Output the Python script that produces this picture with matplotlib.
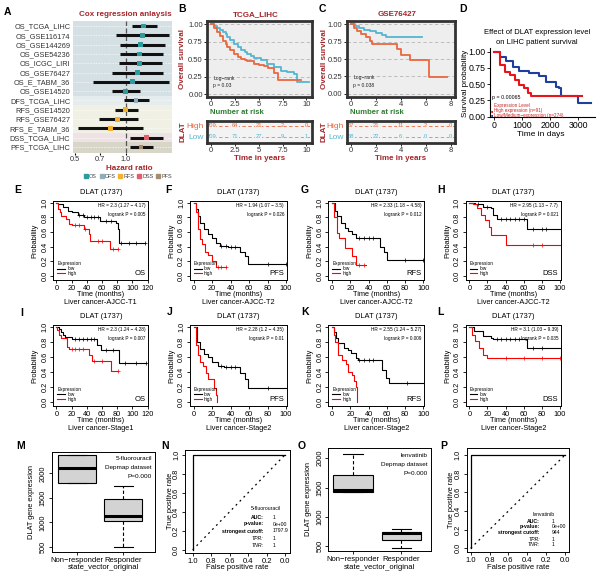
import matplotlib.pyplot as plt
from matplotlib.lines import Line2D
from matplotlib.ticker import NullLocator
import numpy as np

plt.rcParams['font.family'] = ['Liberation Sans', 'DejaVu Sans']

DARKRED = '#a3262a'
ORANGE = '#e9673f'
SKY = '#55b5d1'
GREEN = '#2e7d32'

# ---------- data ----------
cox_names = ["OS_TCGA_LIHC", "OS_GSE116174", "OS_GSE144269", "OS_GSE54236", "OS_ICGC_LIRI",
             "OS_GSE76427", "OS_E_TABM_36", "OS_GSE14520", "DFS_TCGA_LIHC", "RFS_GSE14520",
             "RFS_GSE76427", "RFS_E_TABM_36", "DSS_TCGA_LIHC", "PFS_TCGA_LIHC"]
cox_hr = [1.28, 1.25, 1.22, 1.21, 1.21, 1.17, 1.09, 1.00, 1.15, 1.00, 0.89, 0.81, 1.33, 1.23]
cox_lo = [1.09, 0.875, 0.93, 0.93, 0.91, 0.83, 0.64, 0.83, 0.97, 0.86, 0.69, 0.52, 1.06, 1.06]
cox_hi = [1.53, 1.81, 1.71, 1.67, 1.64, 1.66, 1.81, 1.22, 1.37, 1.18, 1.18, 1.27, 1.67, 1.46]
cox_type = ["OS"] * 8 + ["DFS"] + ["RFS"] * 3 + ["DSS", "PFS"]
type_col = {'OS': '#2e9c9c', 'DFS': '#8fb0bb', 'RFS': '#f2b134', 'DSS': '#e35d6a', 'PFS': '#a68c6e'}
type_bg = {'OS': '#d4e0e3', 'DFS': '#e4ecee', 'RFS': '#f0f0e4', 'DSS': '#efe2e5', 'PFS': '#d8d6c8'}

tcga_hi_t = [0, 0.3, 0.6, 0.9, 1.2, 1.5, 1.7, 2.0, 2.4, 2.8, 3.1, 3.5, 3.8, 4.5, 5.0, 5.5, 6.0, 6.6, 7.0, 9.4]
tcga_hi_s = [1.0, 0.95, 0.89, 0.83, 0.77, 0.72, 0.68, 0.63, 0.58, 0.54, 0.51, 0.49, 0.47, 0.44, 0.42, 0.40, 0.38, 0.30, 0.21, 0.21]
tcga_lo_t = [0, 0.3, 0.6, 0.9, 1.2, 1.5, 1.7, 2.0, 2.4, 2.8, 3.1, 3.5, 3.8, 4.2, 4.5, 5.2, 5.9, 6.6, 7.3, 8.0, 8.7, 9.0, 10.3]
tcga_lo_s = [1.0, 0.98, 0.95, 0.92, 0.89, 0.86, 0.82, 0.78, 0.72, 0.67, 0.64, 0.61, 0.58, 0.55, 0.52, 0.49, 0.44, 0.39, 0.34, 0.32, 0.29, 0.17, 0.17]
tcga_risk_t = [0, 2.5, 5, 7.5, 10]
tcga_risk_hi = [209, 64, 21, 2, 0]
tcga_risk_lo = [209, 71, 27, 9, 1]

gse_lo_t = [0, 0.3, 0.6, 1.0, 1.5, 2.0, 2.5, 2.8, 5.7]
gse_lo_s = [1, 0.97, 0.95, 0.92, 0.90, 0.88, 0.85, 0.82, 0.82]
gse_hi_t = [0, 0.2, 0.5, 0.8, 1.2, 1.5, 1.7, 3.7, 4.0, 4.75, 6.25, 7.7]
gse_hi_s = [1, 0.95, 0.90, 0.86, 0.81, 0.76, 0.71, 0.65, 0.56, 0.48, 0.24, 0.24]
gse_risk_t = [0, 2, 4, 6, 8]
gse_risk_hi = [57, 21, 11, 2, 0]
gse_risk_lo = [58, 22, 6, 0, 0]

gepia_hi_t = [0, 200, 376, 553, 730, 900, 1080, 1200, 1320, 3140]
gepia_hi_s = [1, 0.79, 0.69, 0.64, 0.56, 0.49, 0.44, 0.36, 0.32, 0.32]
gepia_lo_t = [0, 200, 435, 670, 900, 1260, 1610, 1850, 2200, 2320, 2376, 3000, 3450]
gepia_lo_s = [1, 0.92, 0.85, 0.77, 0.71, 0.67, 0.62, 0.54, 0.46, 0.44, 0.32, 0.21, 0.21]

# KM plotter panels E-L: (low times, low surv, low censor, high times, high surv, high censor)
km_E = ([0, 2, 8.5, 15, 21, 28, 36, 57, 79, 81, 83, 116], [1, 0.98, 0.94, 0.89, 0.88, 0.84, 0.81, 0.75, 0.73, 0.64, 0.45, 0.45],
        [30, 35, 40, 45, 50, 55, 65, 72, 85, 95, 105, 116],
        [0, 2, 4.3, 6.4, 12.8, 17, 21, 36, 42.5, 44.7, 70, 81], [1, 0.92, 0.87, 0.82, 0.78, 0.71, 0.69, 0.64, 0.57, 0.48, 0.36, 0.36],
        [25, 30, 38, 55, 60, 75, 81])
km_F = ([0, 3, 5, 7.3, 11.6, 16, 20, 24.6, 29, 37.5, 50, 55, 59, 117], [1, 0.92, 0.82, 0.73, 0.64, 0.57, 0.52, 0.45, 0.41, 0.40, 0.33, 0.27, 0.16, 0.16],
        [30, 35, 40, 45, 80, 100, 117],
        [0, 2, 5, 7.3, 9.5, 12.5, 16, 20, 24.6, 35], [1, 0.87, 0.64, 0.5, 0.43, 0.33, 0.29, 0.2, 0.12, 0.12],
        [26, 30, 35])
km_G = ([0, 3, 5, 9.5, 13.8, 18, 22.4, 26.7, 52.6, 57, 60, 118], [1, 0.89, 0.82, 0.73, 0.66, 0.61, 0.57, 0.52, 0.40, 0.33, 0.22, 0.22],
        [30, 35, 40, 45, 80, 100, 118],
        [0, 2, 5, 7.3, 13.8, 22.4, 26.7, 37.5], [1, 0.81, 0.59, 0.52, 0.38, 0.27, 0.14, 0.14],
        [30, 35])
km_H = ([0, 6.5, 15, 24, 26, 30, 64, 113], [1, 0.98, 0.95, 0.93, 0.84, 0.78, 0.64, 0.64],
        [10, 20, 35, 40, 45, 50, 55, 60, 70, 80, 85, 113],
        [0, 4.3, 8.7, 13, 17.4, 21.7, 24, 40, 119], [1, 0.98, 0.93, 0.84, 0.76, 0.67, 0.56, 0.42, 0.42],
        [70, 80, 119])
km_I = ([0, 3, 6, 9, 12, 21, 54, 58.6, 83, 118], [1, 0.97, 0.94, 0.90, 0.87, 0.84, 0.76, 0.70, 0.52, 0.52],
        [25, 30, 35, 40, 45, 50, 65, 75, 90, 105, 118],
        [0, 1, 3, 6, 8, 14.5, 16.7, 43, 47.5, 72, 81], [1, 0.96, 0.9, 0.86, 0.85, 0.74, 0.71, 0.62, 0.55, 0.41, 0.41],
        [20, 25, 30, 35, 50, 60, 81])
km_J = ([0, 3.4, 7.3, 11.6, 15.9, 20, 26.6, 33, 50, 55, 59, 117], [1, 0.8, 0.71, 0.64, 0.6, 0.53, 0.48, 0.46, 0.39, 0.3, 0.18, 0.18],
        [30, 35, 40, 45, 80, 117],
        [0, 2, 4.7, 6.9, 9.9, 12.9, 16, 22, 24.5, 25], [1, 0.76, 0.62, 0.53, 0.48, 0.39, 0.3, 0.18, 0.09, 0],
        [])
km_K = ([0, 2, 4, 6.4, 12.9, 17, 21, 25.8, 28, 54.5, 59, 62, 118], [1, 0.93, 0.85, 0.79, 0.72, 0.70, 0.65, 0.59, 0.56, 0.43, 0.32, 0.25, 0.25],
        [30, 35, 40, 45, 82, 118],
        [0, 2, 3.5, 6.4, 10.7, 15, 17, 21.5, 23.6, 25.8, 27], [1, 0.9, 0.8, 0.63, 0.56, 0.5, 0.4, 0.36, 0.27, 0.2, 0],
        [])
km_L = ([0, 5, 15, 24, 26, 63, 113], [1, 0.95, 0.88, 0.86, 0.84, 0.72, 0.72],
        [30, 35, 40, 45, 50, 55, 70, 80, 113],
        [0, 3, 6.5, 10.8, 15, 19, 118], [1, 0.9, 0.81, 0.72, 0.63, 0.59, 0.59],
        [40, 60, 80, 100, 118])

box_labels = ['Non\u2212responder', 'Responder']
fu_q1 = [1796, 1031]; fu_med = [2102, 1127]; fu_q3 = [2374, 1468]; fu_lo = [1796, 490]; fu_hi = [2374, 1740]
lv_q1 = [1429, 603]; lv_med = [1458, 728]; lv_q3 = [1715, 745]; lv_lo = [1429, 462]; lv_hi = [2068, 786]

roc_spec = [1, 1, 0]
roc_sens = [0, 1, 1]

# ---------- layout helpers ----------
W, H = 600, 577
fig = plt.figure(figsize=(6, 5.77), dpi=100)


def axp(x0, y0, x1, y1):
    return fig.add_axes([x0 / W, 1 - y1 / H, (x1 - x0) / W, (y1 - y0) / H])


def tx(x, y, s, **kw):
    kw.setdefault('ha', 'center')
    kw.setdefault('va', 'center')
    return fig.text(x / W, 1 - y / H, s, **kw)


def letter(x, y, s):
    tx(x, y, s, fontsize=7.5, weight='bold')


# ---------- A: forest ----------
letter(7, 12, 'A')
axA = axp(73, 21, 172, 153)
n = len(cox_names)
ypos = np.arange(n)[::-1]
for i, (y, t) in enumerate(zip(ypos, cox_type)):
    lo = y - 0.5 - (1 if i == n - 1 else 0)
    hi = y + 0.5 + (1 if i == 0 else 0)
    axA.axhspan(lo, hi, color=type_bg[t], lw=0, zorder=0)
    axA.axhline(y, color='white', lw=0.4, ls=(0, (3, 2)), zorder=0.5)
axA.set_xscale('log')
axA.set_xlim(0.486, 1.88)
axA.set_ylim(-0.64, 13.54)
axA.axvline(1.0, color='#555555', lw=0.9, ls=(0, (4, 2)), zorder=1)
axA.hlines(ypos, cox_lo, cox_hi, color='#111111', lw=2.2, zorder=2)
axA.scatter(cox_hr, ypos, marker='s', s=12, c=[type_col[t] for t in cox_type], zorder=3, lw=0)
axA.set_xticks([0.5, 0.7, 1.0])
axA.set_xticklabels(['0.5', '0.7', '1.0'])
axA.xaxis.set_minor_locator(NullLocator())
axA.set_yticks(ypos)
axA.set_yticklabels(cox_names)
axA.tick_params(axis='y', length=0, labelsize=5.3, labelcolor='#333333', pad=2)
axA.tick_params(axis='x', length=1.5, labelsize=5.3, labelcolor='#333333', pad=0.5)
for sp in axA.spines.values():
    sp.set_visible(False)
tx(125, 15, 'Cox regression anlaysis', color=DARKRED, weight='bold', fontsize=5.8)
tx(129, 168.5, 'Hazard ratio', color=DARKRED, weight='bold', fontsize=5.8)
handles = [Line2D([], [], marker='s', ls='none', color=type_col[k], ms=2.4) for k in type_col]
fig.legend(handles, list(type_col.keys()), loc='center', bbox_to_anchor=(128 / W, 1 - 176 / H), ncol=5,
           frameon=False, fontsize=4.0, handlelength=0.6, handletextpad=0.2, columnspacing=0.6,
           borderpad=0, labelcolor='#444444')


# ---------- B, C: ggsurvplot style ----------
def km_gg(box, rbox, title, hi_t, hi_s, lo_t, lo_s, xlim, xt, xtl, pval, rt, rhi, rlo, ylab_x, let_xy, let):
    x0, y0, x1, y1 = box
    letter(let_xy[0], let_xy[1], let)
    ax = axp(*box)
    ax.set_facecolor('#eeeeee')
    for yv in [0, 0.25, 0.5, 0.75, 1.0]:
        ax.axhline(yv, color='#b5b5b5', lw=0.6, ls=(0, (4, 3)), zorder=0)
    ax.step(lo_t, lo_s, where='post', color=SKY, lw=1.3)
    ax.step(hi_t, hi_s, where='post', color=ORANGE, lw=1.3)
    ax.set_xlim(*xlim)
    ax.set_ylim(-0.04, 1.05)
    ax.set_xticks(xt)
    ax.set_xticklabels(xtl)
    ax.set_yticks([0, 0.25, 0.5, 0.75, 1.0])
    ax.set_yticklabels(['0.00', '0.25', '0.50', '0.75', '1.00'])
    ax.tick_params(labelsize=5.5, labelcolor='#333333', length=2, pad=1, width=0.6)
    for sp in ax.spines.values():
        sp.set_linewidth(2)
        sp.set_color('#333333')
    ax.text(0.06, 0.23, 'Log\u2212rank', transform=ax.transAxes, fontsize=3.6, color='#222222')
    ax.text(0.06, 0.13, 'p = ' + pval, transform=ax.transAxes, fontsize=3.6, color='#222222')
    tx((x0 + x1) / 2 - 4, 15, title, color=DARKRED, weight='bold', fontsize=5.8)
    tx(ylab_x, (y0 + y1) / 2, 'Overall survival', rotation=90, color=DARKRED, weight='bold', fontsize=5.8)
    tx(x0 + 3, 112.7, 'Number at risk', ha='left', color=GREEN, weight='bold', fontsize=5.5)

    r0, r1, r2, r3 = rbox
    ar = axp(*rbox)
    ar.set_facecolor('#f3f3f3')
    ar.set_xlim(*xlim)
    ar.set_ylim(-0.52, 1.48)
    for yv, col, vals in [(1, ORANGE, rhi), (0, SKY, rlo)]:
        ar.axhline(yv, color=col, lw=0.6, ls=(0, (4, 3)), zorder=1)
        for t, v in zip(rt, vals):
            ar.text(t, yv, str(v), color=col, fontsize=4.2, ha='center', va='center', zorder=2,
                    bbox=dict(fc='#f3f3f3', ec='none', pad=0.2))
    ar.set_yticks([1, 0])
    ar.set_yticklabels(['High', 'Low'])
    ar.get_yticklabels()[0].set_color(ORANGE)
    ar.get_yticklabels()[1].set_color(SKY)
    ar.set_xticks(xt)
    ar.set_xticklabels(xtl)
    ar.tick_params(axis='y', length=0, labelsize=6, pad=2)
    ar.tick_params(axis='x', labelsize=5.5, labelcolor='#333333', length=2, pad=1, width=0.6)
    for sp in ar.spines.values():
        sp.set_linewidth(2)
        sp.set_color('#333333')
    tx(ylab_x, (r1 + r3) / 2, 'DLAT', rotation=90, color=DARKRED, weight='bold', fontsize=5.8)
    tx((r0 + r2) / 2, 158.3, 'Time in years', color=DARKRED, weight='bold', fontsize=5.8)


km_gg((207, 21, 312, 97), (207, 120.7, 312, 142.7), 'TCGA_LIHC', tcga_hi_t, tcga_hi_s, tcga_lo_t, tcga_lo_s,
      (-0.45, 10.6), [0, 2.5, 5, 7.5, 10], ['0', '2.5', '5', '7.5', '10'], '0.03',
      tcga_risk_t, tcga_risk_hi, tcga_risk_lo, 183, (182, 8.5), 'B')
km_gg((346.7, 20.7, 455, 96.7), (346.7, 120.7, 455, 142.7), 'GSE76427', gse_hi_t, gse_hi_s, gse_lo_t, gse_lo_s,
      (-0.35, 8.35), [0, 2, 4, 6, 8], ['0', '2', '4', '6', '8'], '0.038',
      gse_risk_t, gse_risk_hi, gse_risk_lo, 324, (322, 8.5), 'C')

# ---------- D: GEPIA style ----------
letter(463, 9.5, 'D')
axD = axp(490, 48, 595, 117)
axD.step(gepia_lo_t, gepia_lo_s, where='post', color='#1f3f9e', lw=1.5)
axD.step(gepia_hi_t, gepia_hi_s, where='post', color='#e8141c', lw=1.5)
axD.set_xlim(-150, 3600)
axD.set_ylim(-0.005, 1.057)
axD.set_xticks([0, 1000, 2000, 3000])
axD.set_yticks([0, 0.25, 0.5, 0.75, 1.0])
axD.set_yticklabels(['0.00', '0.25', '0.50', '0.75', '1.00'])
axD.tick_params(labelsize=6.3, length=2, pad=1, width=0.6)
axD.spines['top'].set_visible(False)
axD.spines['right'].set_visible(False)
for sp in ['left', 'bottom']:
    axD.spines[sp].set_linewidth(0.8)
tx(537, 33, 'Effect of DLAT expression level', fontsize=5.5)
tx(537, 43, 'on LIHC patient survival', fontsize=5.5)
tx(466, 83, 'Survival probability', rotation=90, fontsize=5.8)
tx(541, 135, 'Time in days', fontsize=6)
tx(492, 97.7, 'p = 0.00065', ha='left', fontsize=3.8)
tx(494, 105.7, 'Expression Level', ha='left', fontsize=3.3, color='#cc2222')
tx(494, 111, 'High expression (n=91)', ha='left', fontsize=3.3, color='#cc2222')
tx(494, 115, 'Low/Medium\u2212expression (n=274)', ha='left', fontsize=3.3, color='#cc2222')
tx(491.5, 111, '\u25a0', fontsize=2.6, color='#e8141c')
tx(491.5, 115, '\u25a0', fontsize=2.6, color='#1f3f9e')


# ---------- E-L: KM plotter style ----------
def km_line(ax, t, s, cens, col):
    ax.step(t, s, where='post', color=col, lw=0.8)
    if len(cens):
        idx = np.searchsorted(t, cens, side='right') - 1
        ax.plot(cens, np.array(s)[idx], '+', color=col, ms=2.2, mew=0.5)


def r_axes(ax):
    for sp in ax.spines.values():
        sp.set_linewidth(0.7)
    ax.tick_params(labelsize=5.3, length=2.5, width=0.6, pad=1)
    for lab in ax.get_yticklabels():
        lab.set_rotation(90)
        lab.set_va('center')


def km_r(box, let_xy, let, data, hr, p, tag, sub, xmax):
    x0, y0, x1, y1 = box
    letter(let_xy[0], let_xy[1], let)
    ax = axp(*box)
    km_line(ax, data[0], data[1], data[2], 'black')
    km_line(ax, data[3], data[4], data[5], 'red')
    ax.set_xlim(-4, xmax + 1)
    ax.set_ylim(-0.06, 1.03)
    ax.set_xticks(np.arange(0, xmax + 1, 20))
    ax.set_yticks([0, 0.2, 0.4, 0.6, 0.8, 1.0])
    r_axes(ax)
    ax.text(0.97, 0.97, hr, transform=ax.transAxes, ha='right', va='top', fontsize=3.4)
    ax.text(0.97, 0.86, p, transform=ax.transAxes, ha='right', va='top', fontsize=3.4)
    ax.text(0.97, 0.04, tag, transform=ax.transAxes, ha='right', va='bottom', fontsize=5.5)
    tx(x0 + 4, y1 - 16, 'Expression', ha='left', fontsize=3.4)
    ax.plot([0.04, 0.12], [0.145, 0.145], transform=ax.transAxes, color='black', lw=0.8)
    ax.plot([0.04, 0.12], [0.09, 0.09], transform=ax.transAxes, color='red', lw=0.8)
    tx(x0 + 14, y1 - 11.3, 'low', ha='left', fontsize=3.4)
    tx(x0 + 14, y1 - 7, 'high', ha='left', fontsize=3.4)
    tx((x0 + x1) / 2, y0 - 8, 'DLAT (1737)', fontsize=5.4)
    tx(x0 - 18, (y0 + y1) / 2, 'Probability', rotation=90, fontsize=5.3)
    tx((x0 + x1) / 2, y1 + 14, 'Time (months)', fontsize=5.3)
    tx((x0 + x1) / 2, y1 + 22, sub, fontsize=5.3)


row2 = (200.7, 280)
row3 = (325, 406)
cols = [(53.3, 148.3), (190, 287), (328.3, 424.3), (465.7, 561)]
km_r((cols[0][0], row2[0], cols[0][1], row2[1]), (18, 190), 'E', km_E,
     'HR = 2.3 (1.27 \u2212 4.17)', 'logrank P = 0.005', 'OS', 'Liver cancer-AJCC-T1', 120)
km_r((cols[1][0], row2[0], cols[1][1], row2[1]), (168, 190), 'F', km_F,
     'HR = 1.94 (1.07 \u2212 3.5)', 'logrank P = 0.026', 'PFS', 'Liver cancer-AJCC-T2', 100)
km_r((cols[2][0], row2[0], cols[2][1], row2[1]), (305, 190), 'G', km_G,
     'HR = 2.33 (1.18 \u2212 4.58)', 'logrank P = 0.012', 'RFS', 'Liver cancer-AJCC-T2', 100)
km_r((cols[3][0], row2[0], cols[3][1], row2[1]), (441, 190), 'H', km_H,
     'HR = 2.95 (1.13 \u2212 7.7)', 'logrank P = 0.021', 'DSS', 'Liver cancer-AJCC-T2', 100)
km_r((cols[0][0], row3[0], cols[0][1], row3[1]), (22, 313), 'I', km_I,
     'HR = 2.3 (1.24 \u2212 4.28)', 'logrank P = 0.007', 'OS', 'Liver cancer-Stage1', 120)
km_r((cols[1][0], row3[0], cols[1][1], row3[1]), (170, 312), 'J', km_J,
     'HR = 2.28 (1.2 \u2212 4.35)', 'logrank P = 0.01', 'PFS', 'Liver cancer-Stage2', 100)
km_r((cols[2][0], row3[0], cols[2][1], row3[1]), (305, 312), 'K', km_K,
     'HR = 2.55 (1.24 \u2212 5.27)', 'logrank P = 0.009', 'RFS', 'Liver cancer-Stage2', 100)
km_r((cols[3][0], row3[0], cols[3][1], row3[1]), (440, 312), 'L', km_L,
     'HR = 3.1 (1.03 \u2212 9.39)', 'logrank P = 0.035', 'DSS', 'Liver cancer-Stage2', 100)


# ---------- M, O: boxplots ; N, P: ROC ----------
def box_panel(box, let_xy, let, q1, med, q3, lo, hi, ylim, xlim, drug, ylab_x):
    x0, y0, x1, y1 = box
    letter(let_xy[0], let_xy[1], let)
    ax = axp(*box)
    stats = [dict(q1=a, med=b, q3=c, whislo=d, whishi=e, fliers=[]) for a, b, c, d, e in zip(q1, med, q3, lo, hi)]
    ax.bxp(stats, positions=[1, 2], widths=0.82, capwidths=0.4, patch_artist=True, showfliers=False,
           boxprops=dict(facecolor='#d3d3d3', edgecolor='black', lw=0.8),
           medianprops=dict(color='black', lw=2.2),
           whiskerprops=dict(color='black', lw=0.8, ls=(0, (3, 2))),
           capprops=dict(color='black', lw=0.8))
    ax.set_xlim(*xlim)
    ax.set_ylim(*ylim)
    ax.set_xticks([1, 2])
    ax.set_xticklabels(box_labels)
    ax.set_yticks([500, 1000, 1500, 2000])
    r_axes(ax)
    ax.tick_params(axis='x', labelsize=5.5)
    ax.text(0.97, 0.93, drug, transform=ax.transAxes, ha='right', va='center', fontsize=4.6)
    ax.text(0.97, 0.84, 'Depmap dataset', transform=ax.transAxes, ha='right', va='center', fontsize=4.6)
    ax.text(0.97, 0.75, 'P=0.000', transform=ax.transAxes, ha='right', va='center', fontsize=4.6)
    tx(ylab_x, (y0 + y1) / 2, 'DLAT gene expression', rotation=90, fontsize=5.3)
    tx((x0 + x1) / 2, 567.3, 'state_vector_original', fontsize=5.5)


def roc_panel(box, let_xy, let, xlim, ylim, drug, lab_x, val_x, rows_y, vals):
    x0, y0, x1, y1 = box
    letter(let_xy[0], let_xy[1], let)
    ax = axp(*box)
    ax.plot(roc_spec, roc_sens, color='black', lw=0.9)
    ax.plot([roc_spec[0], roc_spec[-1]], [roc_sens[0], roc_sens[-1]], color='black', lw=0.9, ls=(0, (1.5, 3)))
    ax.set_xlim(*xlim)
    ax.set_ylim(*ylim)
    ticks = [0, 0.2, 0.4, 0.6, 0.8, 1.0]
    ax.set_xticks(ticks)
    ax.set_yticks(ticks)
    r_axes(ax)
    ax.tick_params(axis='x', labelsize=5.5)
    tx(x0 - 15, (y0 + y1) / 2, 'True positive rate', rotation=90, fontsize=5.3)
    tx((x0 + x1) / 2, 567.3, 'False positive rate', fontsize=5.5)
    tx((lab_x + val_x) / 2 - 2, rows_y[0], drug, fontsize=3.7)
    names = ['AUC:', 'p-value:', 'strongest cutoff:', 'TPR:', 'TNR:']
    for i, (nm, v) in enumerate(zip(names, vals)):
        st = 'italic' if i >= 3 else 'normal'
        wt = 'bold' if i < 3 else 'normal'
        tx(lab_x, rows_y[i + 1], nm, ha='right', fontsize=3.7, style=st, weight=wt)
        tx(val_x, rows_y[i + 1], v, ha='left', fontsize=3.7)


box_panel((51.7, 451.7, 155, 551.7), (20.7, 446), 'M', fu_q1, fu_med, fu_q3, fu_lo, fu_hi,
          (400, 2440), (0.46, 2.68), '5-fluorouracil', 31.7)
roc_panel((185, 450, 290, 552.7), (165, 446), 'N', (1.083, -0.054), (-0.03, 1.05), '5-fluorouracil',
          263.3, 272.7, [509, 517.3, 524, 531, 538.3, 545.7], ['1', '0e+00', '1797.9', '1', '1'])
box_panel((328.3, 448.3, 431, 550.7), (301.7, 446), 'O', lv_q1, lv_med, lv_q3, lv_lo, lv_hi,
          (420, 2170), (0.49, 2.61), 'lenvatinib', 308)
roc_panel((466.7, 448.3, 569.3, 551.7), (443.3, 446), 'P', (1.042, -0.046), (-0.036, 1.072), 'lenvatinib',
          540, 551.7, [514.3, 521.7, 526.7, 532.7, 539.3, 545], ['1', '0e+00', '944', '1', '1'])

fig.savefig('out.png', dpi=100)
